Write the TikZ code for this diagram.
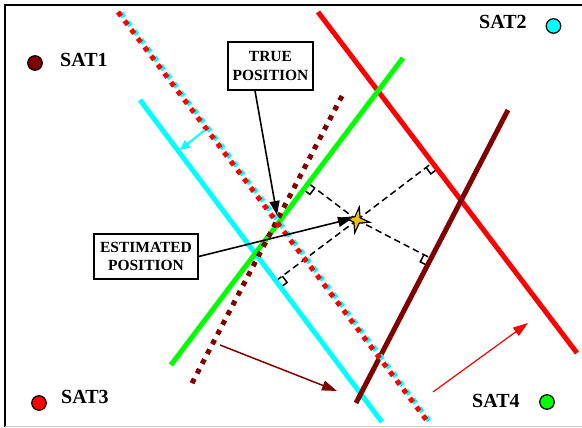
\documentclass[tikz,border=0pt]{standalone}
\usepackage{fontspec}
\setmainfont{Liberation Serif}
\usetikzlibrary{arrows.meta,calc,shapes.geometric}
\definecolor{dred}{RGB}{128,0,0}
\definecolor{cy}{RGB}{0,255,255}
\definecolor{gr}{RGB}{0,255,0}
\definecolor{rd}{RGB}{255,0,0}
\definecolor{starfill}{RGB}{240,190,30}
\begin{document}
\begin{tikzpicture}[x=1pt,y=-1pt,
  solidline/.style={line width=5pt},
  dotline/.style={line width=5pt, dash pattern=on 5pt off 6pt},
  satdot/.style={circle, draw=black, line width=1.2pt, minimum size=14.5pt, inner sep=0pt},
  satlabel/.style={anchor=base west, inner sep=0pt, font=\fontsize{20}{24}\selectfont\bfseries},
  posbox/.style={draw, line width=1.5pt, align=center, inner sep=1pt, font=\fontsize{15.5}{18.5}\selectfont\bfseries},
  perpline/.style={dashed, dash pattern=on 6.5pt off 4pt, line width=1.5pt},
  rightmark/.style={line width=1.5pt},
  blackarrow/.style={line width=1.6pt, -{Triangle[length=14pt,width=10pt]}}
]
\useasboundingbox (0,0) rectangle (582,428);
% frame
\draw[line width=1.2pt] (5,426.5) -- (5,5) -- (590,5);
\draw[gray!45, line width=1pt] (5,426.5) -- (590,426.5);

% line end points
\coordinate (cyA) at (140,100);  \coordinate (cyB) at (382,422);
\coordinate (rdA) at (318,12);   \coordinate (rdB) at (577,353);
\coordinate (grA) at (403,58);   \coordinate (grB) at (171,365);
\coordinate (drA) at (508,110);  \coordinate (drB) at (356,403);
\coordinate (ddA) at (342,96);   \coordinate (ddB) at (190,387);
\coordinate (rcA) at (118,12);   \coordinate (rcB) at (428,422);
\coordinate (S) at (357,220);

% dashed perpendiculars
\coordinate (fG) at ($(grA)!(S)!(grB)$);
\coordinate (fR) at ($(rdA)!(S)!(rdB)$);
\coordinate (fD) at ($(drA)!(S)!(drB)$);
\coordinate (fC) at ($(cyA)!(S)!(cyB)$);
\foreach \f/\b in {fG/grB, fR/rdB, fD/drB, fC/cyB}{
  \draw[perpline] (S) -- (\f);
  \draw[rightmark] ($(\f)!8pt!(S)$) -- ($($(\f)!8pt!(S)$)+($(\f)!8pt!(\b)$)-(\f)$) -- ($(\f)!8pt!(\b)$);
}

% solid lines
\draw[solidline, cy] (cyA) -- (cyB);
\draw[solidline, rd] (rdA) -- (rdB);
\draw[solidline, gr] (grA) -- (grB);
\draw[solidline, dred] (drA) -- (drB);
% dotted lines
\draw[dotline, dred] (ddA) -- (ddB);
\draw[dotline, cy] ($(rcA)+(3,1)$) -- ($(rcB)+(3,1)$);
\draw[dotline, rd] (rcA) -- (rcB);

% motion arrows
\coordinate (cyS) at (205,130); \coordinate (cyE) at (180,150);
\draw[cy, line width=2pt, -{Triangle[length=10pt,width=9pt]}] (cyS) -- (cyE);
\coordinate (daS) at (220,345); \coordinate (daE) at (337,391);
\draw[dred, line width=1.5pt, -{Triangle[length=15pt,width=10pt]}] (daS) -- (daE);
\coordinate (raS) at (433,392); \coordinate (raE) at (528,323);
\draw[rd, line width=1.2pt, -{Triangle[length=15pt,width=10pt]}] (raS) -- (raE);

% star (estimated position)
\coordinate (est) at (S);
\draw[draw=black, line width=1.2pt, fill=starfill, line join=miter]
  ($(est)+(10:13)$) -- ($(est)+(55:3.8)$) -- ($(est)+(100:13)$) -- ($(est)+(145:3.8)$)
  -- ($(est)+(190:13)$) -- ($(est)+(235:3.8)$) -- ($(est)+(280:13)$) -- ($(est)+(325:3.8)$) -- cycle;

% satellites
\node[satdot, fill=dred] (sat1) at (35,63) {};
\node[satlabel] (sat1l) at (60,67) {SAT1};
\node[satdot, fill=cy] (sat2) at (553.5,26) {};
\node[satlabel] (sat2l) at (479,29) {SAT2};
\node[satdot, fill=rd] (sat3) at (39,403) {};
\node[satlabel] (sat3l) at (61,403) {SAT3};
\node[satdot, fill=gr] (sat4) at (547,402) {};
\node[satlabel] (sat4l) at (472,407) {SAT4};

% labels
\node[posbox, minimum width=85pt, minimum height=48pt, fill=white] (truebox) at (270.5,66) {TRUE\\POSITION};
\node[posbox, minimum width=104pt, minimum height=45pt, fill=white] (estbox) at (146,256.5) {ESTIMATED\\POSITION};
\coordinate (truepos) at (277,215);
\draw[blackarrow] ($(truebox.south)+(-15.5,0)$) -- (truepos);
\draw[blackarrow] (estbox.east) -- ($(est)+(-5,-1.5)$);
\end{tikzpicture}
\end{document}
